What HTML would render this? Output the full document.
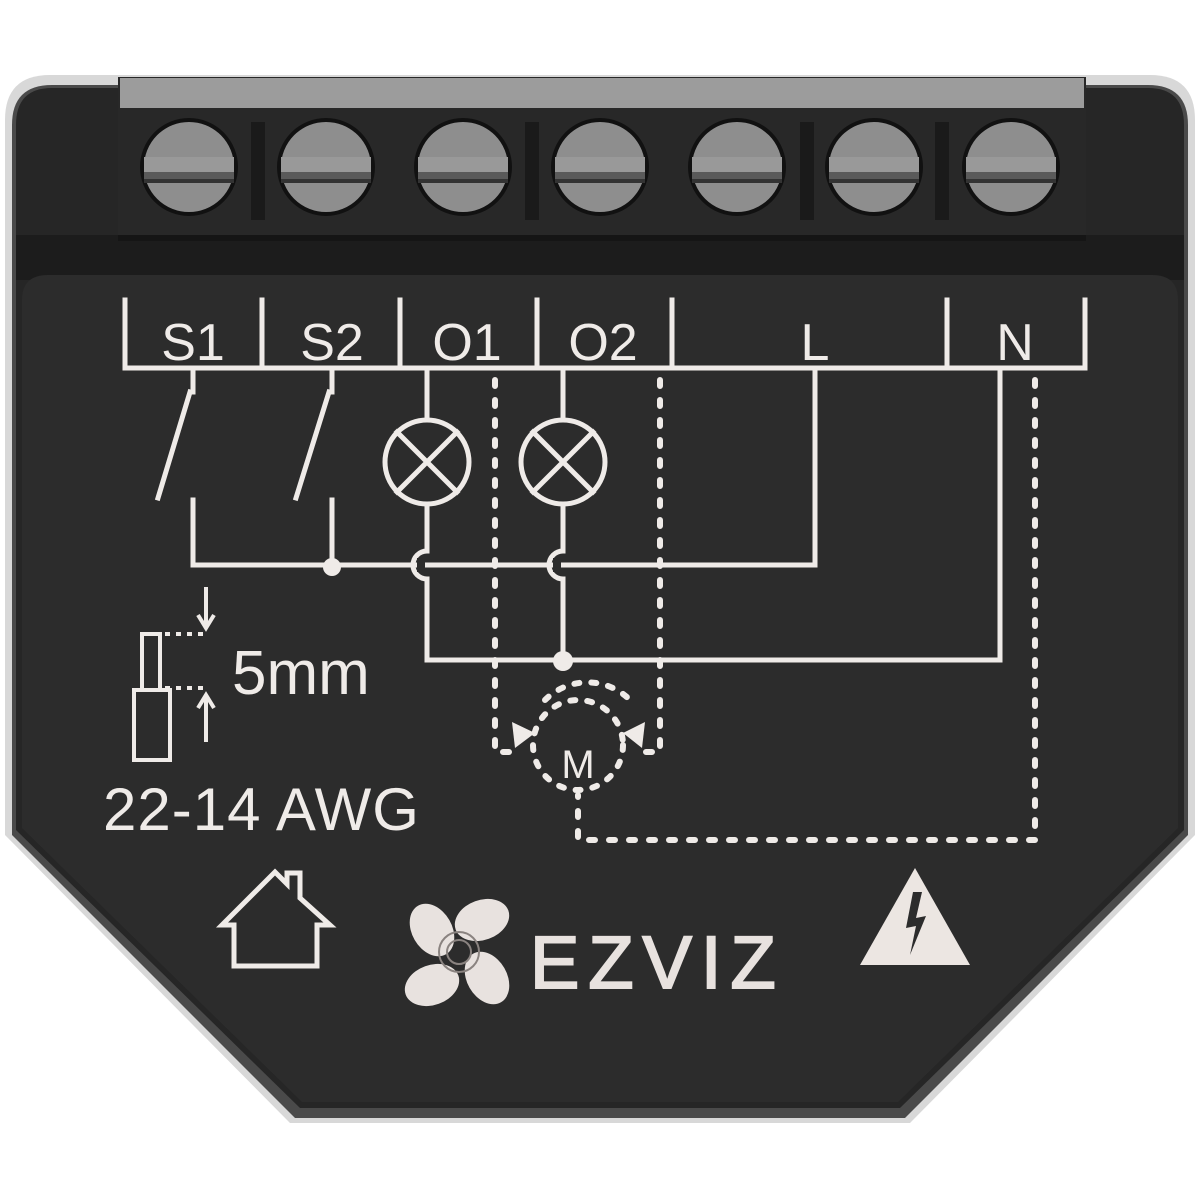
<!DOCTYPE html>
<html><head><meta charset="utf-8"><style>html,body{margin:0;padding:0;background:#fff}svg{display:block}</style></head>
<body>
<svg width="1200" height="1200" viewBox="0 0 1200 1200" xmlns="http://www.w3.org/2000/svg">
<path d="M5,120 Q5,75 50,75 L1150,75 Q1195,75 1195,120 L1195,835 L910,1123 L290,1123 L5,835 Z" fill="#d8d8d8"/>
<path d="M12,125 Q12,85 52,85 L1148,85 Q1188,85 1188,125 L1188,835 L905,1118 L295,1118 L12,835 Z" fill="#4a4a4a"/>
<path d="M16,125 Q16,88 52,88 L1148,88 Q1184,88 1184,125 L1184,830 L900,1108 L300,1108 L16,830 Z" fill="#262626"/>
<rect x="16" y="235" width="1168" height="45" fill="#1c1c1c"/>
<path d="M22,300 Q22,275 48,275 L1152,275 Q1178,275 1178,300 L1178,828 L898,1102 L302,1102 L22,828 Z" fill="#2c2c2c"/>
<rect x="118" y="77" width="968" height="160" fill="#282828"/>
<rect x="120" y="78" width="964" height="30" fill="#9c9c9c"/>
<rect x="118" y="235" width="968" height="6" fill="#151515"/>
<g fill="#1a1a1a">
<rect x="251" y="122" width="14" height="98"/><rect x="525" y="122" width="14" height="98"/>
<rect x="800" y="122" width="14" height="98"/><rect x="935" y="122" width="14" height="98"/>
</g>
<g stroke="#111" stroke-width="4" fill="#8e8e8e">
<circle cx="189" cy="167" r="47"/><circle cx="326" cy="167" r="47"/><circle cx="463" cy="167" r="47"/>
<circle cx="600" cy="167" r="47"/><circle cx="737" cy="167" r="47"/><circle cx="874" cy="167" r="47"/><circle cx="1011" cy="167" r="47"/>
</g>
<g fill="#5a5a5a">
<rect x="144" y="157" width="90" height="26"/><rect x="281" y="157" width="90" height="26"/><rect x="418" y="157" width="90" height="26"/>
<rect x="555" y="157" width="90" height="26"/><rect x="692" y="157" width="90" height="26"/><rect x="829" y="157" width="90" height="26"/><rect x="966" y="157" width="90" height="26"/>
</g>
<g fill="#999">
<rect x="144" y="157" width="90" height="15"/><rect x="281" y="157" width="90" height="15"/><rect x="418" y="157" width="90" height="15"/>
<rect x="555" y="157" width="90" height="15"/><rect x="692" y="157" width="90" height="15"/><rect x="829" y="157" width="90" height="15"/><rect x="966" y="157" width="90" height="15"/>
</g>
<g fill="#333"><rect x="144" y="179" width="90" height="4"/><rect x="281" y="179" width="90" height="4"/><rect x="418" y="179" width="90" height="4"/><rect x="555" y="179" width="90" height="4"/><rect x="692" y="179" width="90" height="4"/><rect x="829" y="179" width="90" height="4"/><rect x="966" y="179" width="90" height="4"/></g>

<g stroke="#efebe8" stroke-width="5" fill="none" stroke-linecap="square">
<path d="M125,300 V368 H1085 V300"/>
<path d="M262,300 V368 M400,300 V368 M537,300 V368 M672,300 V368 M947,300 V368"/>
<path d="M193,368 V392 M190,392 L158,498 M193,500 V565"/>
<path d="M332,368 V392 M329,392 L296,498 M332,500 V565"/>
<path d="M193,565 H815 V368"/>
<path d="M427,368 V420 M427,504 V551 A14,14 0 0 0 427,579 V660 H1000 V368"/>
<path d="M563,368 V420 M563,504 V551 A14,14 0 0 0 563,579 V660"/>
<circle cx="427" cy="462" r="42"/><circle cx="563" cy="462" r="42"/>
<path d="M397,432 L457,492 M457,432 L397,492 M533,432 L593,492 M593,432 L533,492"/>
</g>
<g fill="#2c2c2c"><rect x="417" y="558" width="8" height="14"/><rect x="553" y="558" width="8" height="14"/></g>
<g fill="#efebe8"><circle cx="332" cy="567" r="9"/><circle cx="563" cy="661" r="10"/></g>
<g stroke="#efebe8" stroke-width="6" fill="none" stroke-dasharray="6 14" stroke-linecap="round">
<path d="M495,380 V752 H512"/>
<path d="M660,380 V752 H645"/>
<path d="M1035,380 V840 H578 V795"/>
<circle cx="578" cy="745" r="45" stroke-dasharray="5 12"/>
<path d="M545,700 A60,60 0 0 1 630,700" stroke-dasharray="5 12"/>
</g>
<g fill="#efebe8">
<polygon points="512,722 535,733 515,748"/>
<polygon points="645,722 623,733 642,748"/>
</g>
<text x="578" y="778" font-family="Liberation Sans, sans-serif" font-size="40" fill="#efebe8" text-anchor="middle">M</text>
<g font-family="Liberation Sans, DejaVu Sans, sans-serif" font-size="52" fill="#efebe8" text-anchor="middle">
<text x="193" y="360">S1</text><text x="332" y="360">S2</text><text x="467" y="360">O1</text><text x="603" y="360">O2</text>
<text x="815" y="360">L</text><text x="1015" y="360">N</text>
</g>
<g stroke="#efebe8" stroke-width="4" fill="none">
<path d="M206,587 V625 M198,615 L206,628 L214,615"/>
<path d="M206,742 V698 M198,708 L206,695 L214,708"/>
<rect x="142" y="634" width="18" height="56"/>
<rect x="134" y="690" width="36" height="70"/>
<path d="M165,634 H205 M165,688 H205" stroke-dasharray="5 6"/>
</g>
<text x="232" y="694" font-family="Liberation Sans, sans-serif" font-size="62" fill="#efebe8">5mm</text>
<text x="103" y="830" font-family="Liberation Sans, sans-serif" font-size="60" fill="#efebe8" letter-spacing="1">22-14 AWG</text>
<path d="M222,925 L275,872 L287,884 V873 H300 V898 L330,925 H317 V966 H234 V925 Z" fill="none" stroke="#efebe8" stroke-width="5" stroke-linejoin="miter"/>
<g fill="#e8e2df">
<ellipse cx="432" cy="930" rx="20" ry="28" transform="rotate(-30 432 930)"/>
<ellipse cx="482" cy="920" rx="28" ry="20" transform="rotate(-20 482 920)"/>
<ellipse cx="487" cy="978" rx="20" ry="28" transform="rotate(-30 487 978)"/>
<ellipse cx="432" cy="985" rx="28" ry="20" transform="rotate(-20 432 985)"/>
</g>
<g fill="none" stroke="#8a8380" stroke-width="2"><circle cx="459" cy="952" r="12"/><circle cx="459" cy="952" r="20"/></g>
<text x="530" y="988" font-family="Liberation Sans, sans-serif" font-size="74" fill="#e8e2df" stroke="#e8e2df" stroke-width="2" letter-spacing="9">EZVIZ</text>
<polygon points="915,868 970,965 860,965" fill="#ece6e2"/>
<polygon points="913,892 906,928 916,926 910,955 926,916 916,918 922,892" fill="#2c2c2c"/>
</svg>
</body></html>
